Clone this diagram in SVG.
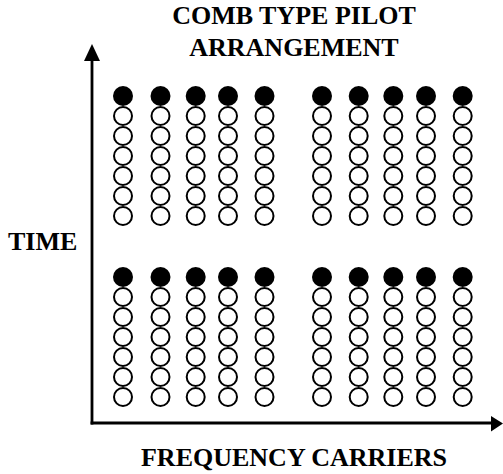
<svg xmlns="http://www.w3.org/2000/svg" xmlns:xlink="http://www.w3.org/1999/xlink" width="503" height="474" viewBox="0 0 503 474">
<style>
text{font-family:"Liberation Serif","Times New Roman",serif;font-weight:bold;font-size:26px;fill:#000}
.axis{stroke:#000;stroke-width:2.8;fill:none}
.pilot{fill:#000}
.data{fill:#fff;stroke:#000;stroke-width:2}
</style>
<defs>
<g id="col">
<circle class="data" cx="0" cy="120" r="9"/>
<circle class="data" cx="0" cy="100" r="9"/>
<circle class="data" cx="0" cy="80" r="9"/>
<circle class="data" cx="0" cy="60" r="9"/>
<circle class="data" cx="0" cy="40" r="9"/>
<circle class="data" cx="0" cy="20" r="9"/>
<circle class="pilot" cx="0" cy="0" r="10"/>
</g>
</defs>
<rect width="503" height="474" fill="#fff"/>
<g id="title">
<text x="294" y="24" text-anchor="middle">COMB TYPE PILOT</text>
<text x="294" y="56" text-anchor="middle">ARRANGEMENT</text>
</g>
<g id="connectors">
<line class="axis" x1="92" y1="58" x2="92" y2="424.4"/>
<polygon points="92,44 84,61 100,61" fill="#000"/>
<line class="axis" x1="90.6" y1="423" x2="493" y2="423"/>
<polygon points="503,423.5 491,416 491,431.5" fill="#000"/>
</g>
<g id="time-label"><text x="8" y="250">TIME</text></g>
<g id="freq-label"><text x="294" y="466" text-anchor="middle">FREQUENCY CARRIERS</text></g>
<g id="block-top-left">
<use xlink:href="#col" x="123" y="96"/>
<use xlink:href="#col" x="160.5" y="96"/>
<use xlink:href="#col" x="195.7" y="96"/>
<use xlink:href="#col" x="228" y="96"/>
<use xlink:href="#col" x="264.5" y="96"/>
</g>
<g id="block-top-right">
<use xlink:href="#col" x="322" y="96"/>
<use xlink:href="#col" x="358.7" y="96"/>
<use xlink:href="#col" x="393.3" y="96"/>
<use xlink:href="#col" x="426" y="96"/>
<use xlink:href="#col" x="462.7" y="96"/>
</g>
<g id="block-bottom-left">
<use xlink:href="#col" x="123" y="277"/>
<use xlink:href="#col" x="160.5" y="277"/>
<use xlink:href="#col" x="195.7" y="277"/>
<use xlink:href="#col" x="228" y="277"/>
<use xlink:href="#col" x="264.5" y="277"/>
</g>
<g id="block-bottom-right">
<use xlink:href="#col" x="322" y="277"/>
<use xlink:href="#col" x="358.7" y="277"/>
<use xlink:href="#col" x="393.3" y="277"/>
<use xlink:href="#col" x="426" y="277"/>
<use xlink:href="#col" x="462.7" y="277"/>
</g>
</svg>
